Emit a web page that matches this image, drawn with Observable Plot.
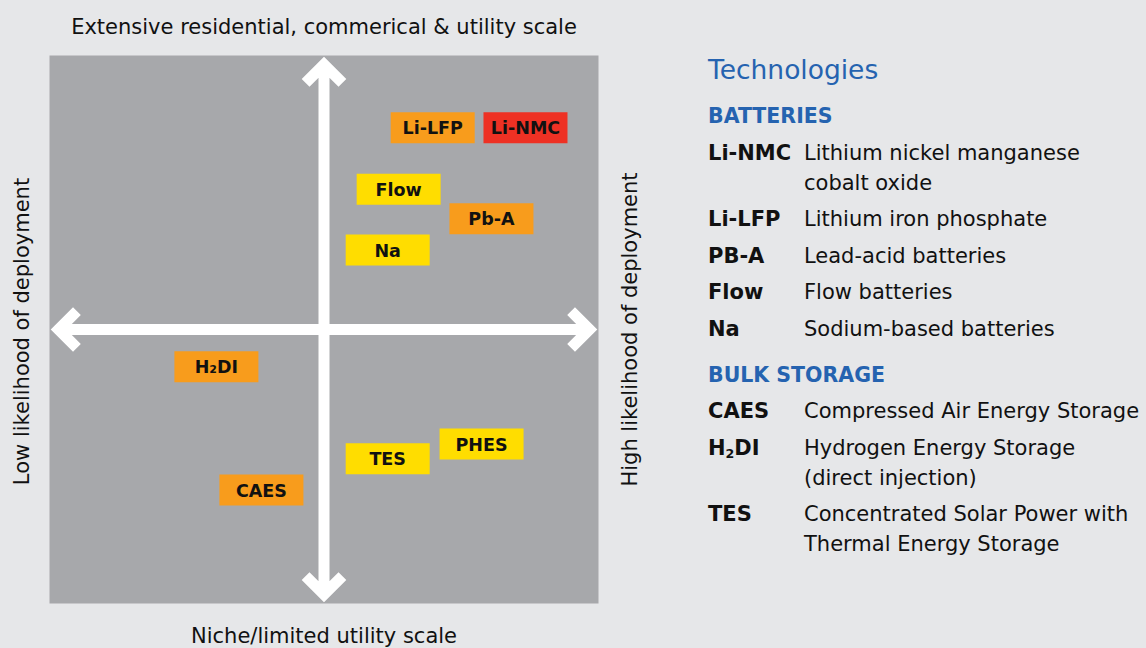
<!DOCTYPE html>
<html><head><meta charset="utf-8">
<script src="https://cdn.jsdelivr.net/npm/d3@7"></script>
<script src="https://cdn.jsdelivr.net/npm/@observablehq/plot@0.6"></script>
<style>
html,body{margin:0;padding:0;background:#e6e7e9;width:1146px;height:648px;overflow:hidden;font-family:"DejaVu Sans",sans-serif}
#wrap{position:relative;width:1146px;height:648px}
#chart{position:absolute;left:0;top:0}
#legend{position:absolute;left:708px;top:52px;color:#111;font-size:21px;white-space:nowrap}
#legend .title{font-size:26.5px;line-height:36px;color:#2563b0}
#legend .sec{font-weight:700;font-size:20.5px;color:#2563b0;line-height:30px}
#legend .row{display:grid;grid-template-columns:96px auto;line-height:30px;margin-top:6.5px}
#legend .key{font-weight:700}
#legend sub{font-size:0.6em;vertical-align:-0.25em;line-height:0}
</style></head>
<body><div id="wrap"><div id="chart"></div><div id="legend"></div></div>
<script>
// ---- data ----
const techNames = ["Li-LFP","Li-NMC","Flow","Pb-A","Na","H₂DI","CAES","TES","PHES"];
const techX     = [1.98, 3.67, 1.36, 3.05, 1.16, -1.96, -1.14, 1.16, 2.87];   // deployment likelihood (low → high)
const techY     = [3.68, 3.68, 2.56, 2.02, 1.45, -0.68, -2.93, -2.36, -2.09]; // scale (niche → extensive)
const techTier  = ["tier2","tier1","tier3","tier2","tier3","tier2","tier2","tier3","tier3"];
const tierNames = ["tier1","tier2","tier3"];
const tierColors = ["#ee3124","#f89c1c","#ffdd00"];

const axisEndX = [0, 0, -5, 5];
const axisEndY = [5, -5, 0, 0];

const labelTop = "Extensive residential, commerical & utility scale";
const labelBottom = "Niche/limited utility scale";
const labelLeft = "Low likelihood of deployment";
const labelRight = "High likelihood of deployment";

const legendTitle = "Technologies";
const sec1 = "BATTERIES";
const sec1Keys = ["Li-NMC","Li-LFP","PB-A","Flow","Na"];
const sec1Descs = [["Lithium nickel manganese","cobalt oxide"],["Lithium iron phosphate"],["Lead-acid batteries"],["Flow batteries"],["Sodium-based batteries"]];
const sec2 = "BULK STORAGE";
const sec2Keys = ["CAES","H<sub>2</sub>DI","TES"];
const sec2Descs = [["Compressed Air Energy Storage"],["Hydrogen Energy Storage","(direct injection)"],["Concentrated Solar Power with","Thermal Energy Storage"]];

// ---- chart ----
const rows = techNames.map((n,i)=>({name:n, x:techX[i], y:techY[i], tier:techTier[i]}));
const boxSymbol = {draw(ctx){ ctx.rect(-42,-15.5,84,31); }};
const F = "'DejaVu Sans', sans-serif";

const chart = Plot.plot({
  width: 1146, height: 648,
  marginLeft: 49, marginRight: 548, marginTop: 55, marginBottom: 45,
  x: {domain: [-5,5], axis: null},
  y: {domain: [-5,5], axis: null},
  color: {domain: tierNames, range: tierColors},
  style: {background: "transparent", fontFamily: F, color: "#111"},
  marks: [
    Plot.frame({fill: "#a7a8ab", stroke: null}),
    Plot.arrow(d3.range(4), {
      x1: () => 0, y1: () => 0, x2: i => axisEndX[i], y2: i => axisEndY[i],
      stroke: "white", strokeWidth: 11, headAngle: 90, headLength: 3.55,
      insetEnd: 9, strokeLinejoin: "miter", strokeLinecap: "butt", strokeMiterlimit: 4
    }),
    Plot.dot(rows, {x: "x", y: "y", fill: "tier", symbol: boxSymbol, r: 5}),
    Plot.text(rows, {x: "x", y: "y", dy: 1, text: "name", fontWeight: "bold", fontSize: 17.5, fill: "#111"}),
    Plot.text([labelTop], {frameAnchor: "top", dy: -28, textAnchor: "middle", lineAnchor: "middle", fontSize: 21, fill: "#111"}),
    Plot.text([labelBottom], {frameAnchor: "bottom", dy: 33, textAnchor: "middle", lineAnchor: "middle", fontSize: 21, fill: "#111"}),
    Plot.text([labelLeft], {frameAnchor: "left", dx: -27, dy: 2, rotate: -90, textAnchor: "middle", lineAnchor: "middle", fontSize: 21, fill: "#111"}),
    Plot.text([labelRight], {frameAnchor: "right", dx: 32, rotate: -90, textAnchor: "middle", lineAnchor: "middle", fontSize: 21, fill: "#111"})
  ]
});
document.getElementById("chart").appendChild(chart);

// ---- legend ----
function rowsHtml(keys, descs){
  return keys.map((k,i)=>`<div class="row"><div class="key">${k}</div><div>${descs[i].join("<br>")}</div></div>`).join("");
}
document.getElementById("legend").innerHTML =
  `<div class="title">${legendTitle}</div>` +
  `<div class="sec" style="margin-top:13px">${sec1}</div>` + rowsHtml(sec1Keys, sec1Descs) +
  `<div class="sec" style="margin-top:16px">${sec2}</div>` + rowsHtml(sec2Keys, sec2Descs);
</script></body></html>
